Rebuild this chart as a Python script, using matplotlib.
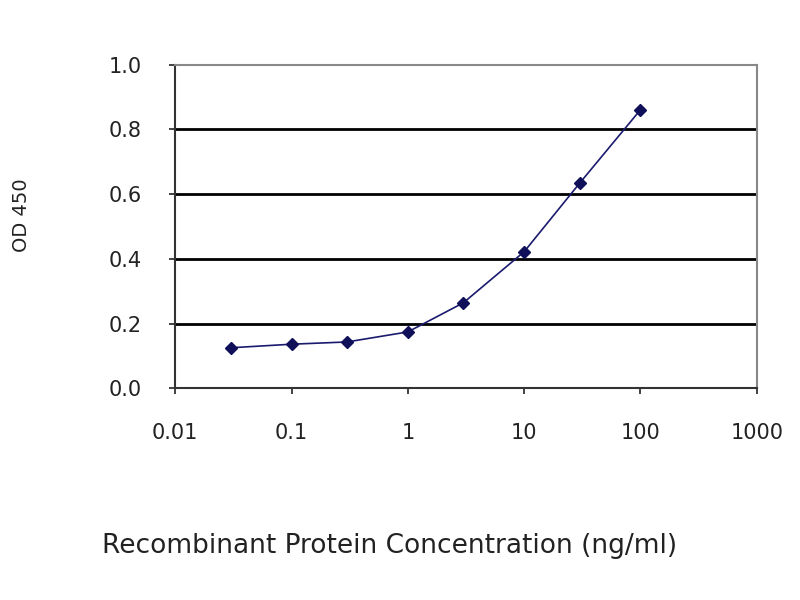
import matplotlib
matplotlib.use("Agg")
from matplotlib import pyplot as plt

# recombinant protein dilution series (ng/ml) vs OD450
conc = [0.03, 0.1, 0.3, 1, 3, 10, 30, 100]
od450 = [0.125, 0.136, 0.143, 0.174, 0.264, 0.422, 0.634, 0.861]
yTicks = [0.0, 0.2, 0.4, 0.6, 0.8, 1.0]
xTicks = [0.01, 0.1, 1, 10, 100, 1000]
xTickLabels = ["0.01", "0.1", "1", "10", "100", "1000"]

plt.rcParams['font.family'] = ['DejaVu Sans']

fig = plt.figure(figsize=(8, 6), dpi=100)
ax = fig.add_axes([0.219, 0.353, 0.727, 0.539])

for y in yTicks[1:-1]:
    ax.axhline(y, color='black', linewidth=2, zorder=1)

ax.plot(conc, od450, color='#1a1a6e', linewidth=1.2, marker='D', markersize=6,
        markerfacecolor='#10105a', markeredgecolor='#10105a', zorder=3)

ax.set_xscale('log')
ax.set_xlim(0.01, 1000)
ax.set_ylim(0, 1.0)
ax.set_xticks(xTicks)
ax.set_xticklabels(xTickLabels)
ax.minorticks_off()
ax.set_yticks(yTicks)
ax.set_yticklabels(["{:.1f}".format(v) for v in yTicks])
ax.tick_params(axis='both', labelsize=15, colors='#222222', length=4, width=1.2)
ax.tick_params(axis='x', pad=21)
ax.tick_params(axis='y', pad=20)

for side in ['top', 'right']:
    ax.spines[side].set_color('#888888')
    ax.spines[side].set_linewidth(1.5)
for side in ['left', 'bottom']:
    ax.spines[side].set_color('#333333')
    ax.spines[side].set_linewidth(1.5)

fig.text(0.027, 0.642, "OD 450", rotation=90, ha='center', va='center', fontsize=14, color='#222222')
fig.text(0.487, 0.09, "Recombinant Protein Concentration (ng/ml)", ha='center', va='center',
         fontsize=19, color='#222222')

fig.savefig("out.png", dpi=100)
